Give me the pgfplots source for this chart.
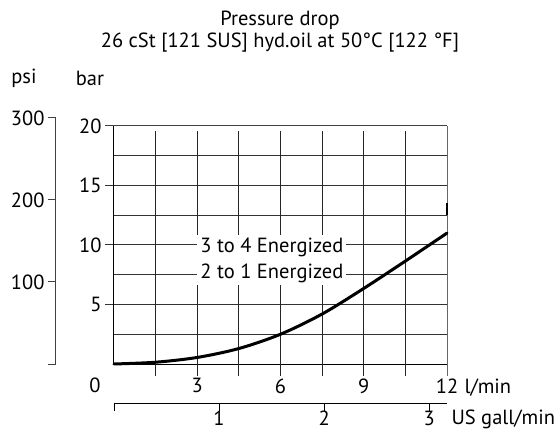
\documentclass[border=0pt]{standalone}
\usepackage{fontspec}
\setmainfont{PT Sans}
\usepackage{pgfplots}
\pgfplotsset{compat=1.18}

\begin{document}
\begin{tikzpicture}[font=\fontsize{20.5bp}{24bp}\selectfont]
\useasboundingbox (-114bp,-66bp) rectangle (441bp,364bp);

% main axis: bar over l/min
\begin{axis}[
at={(0,0)}, anchor=south west,
scale only axis,
width=333bp, height=238bp,
xmin=0, xmax=12,
ymin=0, ymax=20,
clip=false,
axis line style={draw=none},
major tick length=0pt,
xtick={3,6,9,12},
ytick={5,10,15,20},
/pgf/number format/assume math mode=true,
xticklabel style={yshift=-11bp},
yticklabel style={xshift=-9bp},
]
% horizontal grid
\draw[black!75, line width=1bp] (axis cs:-0.324,20) -- (axis cs:12,20);
\draw[black!80, line width=1bp] (axis cs:-0.324,15) -- (axis cs:12,15);
\draw[black!80, line width=1bp] (axis cs:-0.324,10) -- (axis cs:12,10);
\draw[black!80, line width=1bp] (axis cs:-0.324,5) -- (axis cs:12,5);
\draw[black!80, line width=1bp] (axis cs:0,17.5) -- (axis cs:12,17.5);
\draw[black!80, line width=1bp] (axis cs:0,12.5) -- (axis cs:12,12.5);
\draw[black!80, line width=1bp] (axis cs:0,7.5) -- (axis cs:12,7.5);
\draw[black!80, line width=1bp] (axis cs:0,2.5) -- (axis cs:12,2.5);
\draw[black, line width=1bp] (axis cs:0,0) -- (axis cs:12,0);
% borders
\draw[black, line width=1bp] (axis cs:0,0) -- (axis cs:0,20);
\draw[black!60, line width=1bp] (axis cs:12,-1.01) -- (axis cs:12,20);
% vertical grid
\draw[black!85, line width=1bp] (axis cs:1.5,-1.01) -- (axis cs:1.5,19.58);
\draw[black!85, line width=1bp] (axis cs:3,-1.01) -- (axis cs:3,19.58);
\draw[black!85, line width=1bp] (axis cs:4.5,-1.01) -- (axis cs:4.5,19.58);
\draw[black!85, line width=1bp] (axis cs:6,-1.01) -- (axis cs:6,19.58);
\draw[black!85, line width=1bp] (axis cs:7.5,-1.01) -- (axis cs:7.5,19.58);
\draw[black!85, line width=1bp] (axis cs:9,-1.01) -- (axis cs:9,19.58);
\draw[black!85, line width=1bp] (axis cs:10.5,-1.01) -- (axis cs:10.5,19.58);

\addplot[black, line width=2.5bp] coordinates {(12,12.5) (12,13.5)};

\addplot[black, line width=3bp, smooth, line cap=round] coordinates {
 (0,0) (1.5,0.15) (3,0.55) (4.5,1.3) (6,2.5) (7.5,4.2) (9,6.35) (10.5,8.65) (12,11.0)
};

\node[fill=white, align=center, inner sep=3bp,
      font=\fontsize{20.5bp}{26bp}\selectfont] at (axis cs:5.69,8.74)
  {3 to 4 Energized\\2 to 1 Energized};
\end{axis}

% psi scale
\begin{axis}[
at={(-58bp,0)}, anchor=south west,
scale only axis,
width=10bp, height=246.1bp,
xmin=0, xmax=1,
ymin=0, ymax=300,
axis x line=none,
axis y line*=left,
y axis line style={black!75, line width=1bp},
tick align=outside,
major tick length=8bp,
tick style={black!75, line width=1bp},
ytick={0,100,200,300},
yticklabels={,100,200,300},
/pgf/number format/assume math mode=true,
]
\end{axis}

% US gall/min scale
\begin{axis}[
at={(0,-39bp)}, anchor=south west,
scale only axis,
width=333bp, height=10bp,
xmin=0, xmax=3.170064,
ymin=0, ymax=1,
axis y line=none,
axis x line*=bottom,
x axis line style={black, line width=1bp},
tick align=outside,
major tick length=8bp,
tick style={black, line width=1bp},
xtick={0,1,2,3},
xticklabels={,1,2,3},
xticklabel style={yshift=3.5bp},
/pgf/number format/assume math mode=true,
]
\end{axis}

\node at (166bp,344bp) {Pressure drop};
\node at (166bp,321bp) {26 cSt [121 SUS] hyd.oil at 50°C [122 °F]};
\node at (-90bp,286bp) {psi};
\node at (-24bp,286bp) {bar};
\node at (-19bp,-21bp) {0};
\node[anchor=west] at (347bp,-24bp) {l/min};
\node[anchor=west] at (334bp,-55bp) {US gall/min};
\end{tikzpicture}
\end{document}
